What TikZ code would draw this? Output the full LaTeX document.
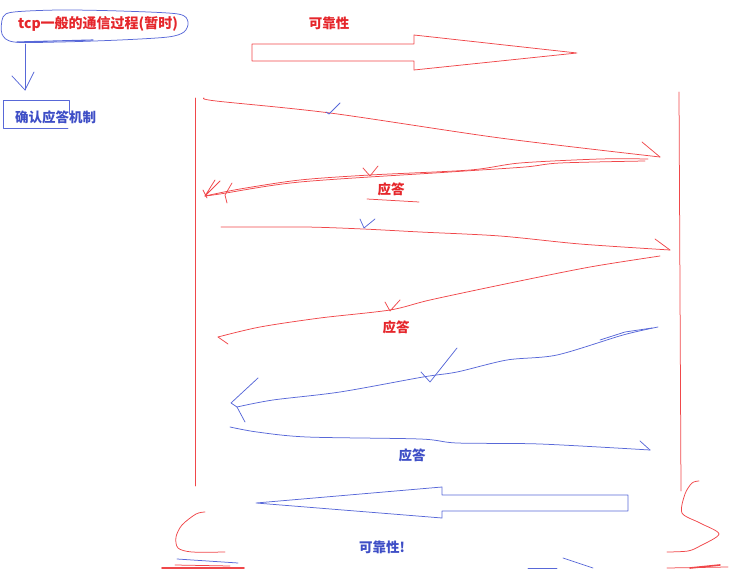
\documentclass[tikz,border=0pt]{standalone}
\usepackage{fontspec}
\newfontfamily\cjk{Noto Sans CJK SC}
\usetikzlibrary{arrows.meta,positioning}
\definecolor{penred}{HTML}{F0474A}
\definecolor{penblue}{HTML}{5868D8}
\definecolor{inkred}{HTML}{E5262B}
\definecolor{inkblue}{HTML}{3E4EC6}

\begin{document}
\begin{tikzpicture}[x=1pt,y=-1pt,line cap=round,line join=round,
      redpen/.style={draw=penred,line width=0.75pt},
      bluepen/.style={draw=penblue,line width=0.75pt},
      lbl/.style={inner sep=0pt,font=\cjk\bfseries\fontsize{13.5}{15}\selectfont},
      redlbl/.style={lbl,text=inkred},
      bluelbl/.style={lbl,text=inkblue}]
    \useasboundingbox (0,0) rectangle (739,569);
    % notes on the left
    \node[redlbl,font=\cjk\bfseries\fontsize{14}{16}\selectfont] (title) at (98,24) {tcp一般的通信过程(暂时)};
    \draw[bluepen] plot[smooth cycle] coordinates {(3,17) (14,12) (60,10) (120,11) (178,14) (188,22) (184,32) (168,37) (120,40) (60,42) (14,42) (2,34)};
    \draw[bluepen,line width=1.1pt] (17,42) -- (93,40);
    \node[bluelbl,anchor=west] (mech) at (15,117.5) {确认应答机制};
    \draw[bluepen] (69,114) -- (69,100) -- (3,100) -- (3,128) -- (68,128);
    \coordinate (titlebot) at (25,44);
    \coordinate (mechtop) at (25,90);
    \draw[bluepen] (titlebot) -- (mechtop);
    \draw[bluepen] (12,76) -- (mechtop) -- (34,72);
    % reliability arrows
    \node[redlbl] (rel) at (329,23) {可靠性};
    \draw[redpen] (252,44) -- (414,44) -- (414,35) -- (577,53) -- (414,70) -- (414,61) -- (252,61) -- cycle;
    \node[bluelbl] (relback) at (382,547) {可靠性!};
    \draw[bluepen] (628,495) -- (442,495) -- (442,487) -- (256,503) -- (442,518) -- (442,511) -- (628,511) -- cycle;
    % the two ends
    \coordinate (la) at (195,98);  \coordinate (lb) at (195,486);
    \coordinate (ra) at (679,92);  \coordinate (rb) at (681,491);
    \draw[redpen] (la) -- (lb);
    \draw[redpen] (ra) -- (rb);
    % first round
    \coordinate (m1s) at (204,98);  \coordinate (m1e) at (660,157);
    \draw[redpen] plot[smooth] coordinates {(m1s) (216,101) (330,113) (500,138) (m1e)};
    \draw[redpen] (642,142) -- (m1e);
    \draw[bluepen] (326,112) -- (329,114) -- (340,103);
    \coordinate (m2s) at (648,159);  \coordinate (m2e) at (205,196);
    \draw[redpen] plot[smooth] coordinates {(m2s) (600,159) (520,163) (470,170) (370,175) (300,180) (240,189) (m2e)};
    \draw[redpen] plot[smooth] coordinates {(645,161) (560,163) (525,167) (450,172) (300,182) (220,194) (m2e)};
    \draw[redpen] (m2e) -- (215,180) (m2e) -- (220,181) (203,190) -- (207,198);
    \draw[redpen] (225,195) -- (232,183) (225,195) -- (227,203);
    \draw[redpen] (363,168) -- (370,176) -- (378,166);
    \node[redlbl] (ack1) at (391,189) {应答};
    \draw[redpen] (367,199) -- (419,202);
    % second round
    \coordinate (m3s) at (221,227);  \coordinate (m3e) at (670,250);
    \draw[redpen] plot[smooth] coordinates {(m3s) (305,227) (363,229) (420,232) (500,236) (580,244) (m3e)};
    \draw[redpen] (655,239) -- (m3e);
    \draw[bluepen] (360,219) -- (364,228) -- (375,219);
    \coordinate (m4s) at (660,256);  \coordinate (m4e) at (218,337);
    \draw[redpen] plot[smooth] coordinates {(m4s) (590,267) (510,283) (430,300) (390,310) (320,318) (260,327) (m4e)};
    \draw[redpen] (m4e) -- (228,344);
    \draw[redpen] (385,302) -- (390,311) -- (400,300);
    \node[redlbl] (ack2) at (396,327) {应答};
    % third round
    \coordinate (m5s) at (658,327);  \coordinate (m5e) at (237,407);
    \draw[bluepen] plot[smooth] coordinates {(m5s) (623,335) (557,355) (507,360) (457,372) (423,377) (340,392) (273,400) (m5e)};
    \draw[bluepen] (652,328) -- (625,332) -- (600,340);
    \draw[bluepen] (258,378) -- (231,403) -- (m5e) -- (245,422);
    \draw[bluepen] (421,372) -- (430,382) -- (457,348);
    \coordinate (m6s) at (230,427);  \coordinate (m6e) at (650,450);
    \draw[bluepen] plot[smooth] coordinates {(m6s) (257,432) (307,437) (420,439) (457,443) (540,444) (m6e)};
    \draw[bluepen] (640,441) -- (m6e);
    \node[bluelbl] (ack3) at (412,455) {应答};
    % brackets and scribbles at the bottom
    \draw[redpen] plot[smooth] coordinates {(205,512) (196,514) (182,525) (176,537) (178,548) (192,552) (225,552)};
    \draw[redpen] plot[smooth] coordinates {(699,481) (692,483) (685,494) (682,513) (700,523) (719,534) (700,546) (688,551) (667,552)};
    \draw[bluepen] (177,559) -- (238,563);
    \draw[redpen,line width=1.6pt] (162,568) -- (244,568);
    \draw[redpen] (175,565) -- (230,566);
    \draw[redpen] (667,568) -- (728,567);
    \draw[redpen,line width=1.6pt] (690,568) -- (720,565);
    \draw[bluepen] (563,558) -- (593,568);
    \draw[bluepen] (528,568) -- (557,568);
  \end{tikzpicture}
\end{document}
